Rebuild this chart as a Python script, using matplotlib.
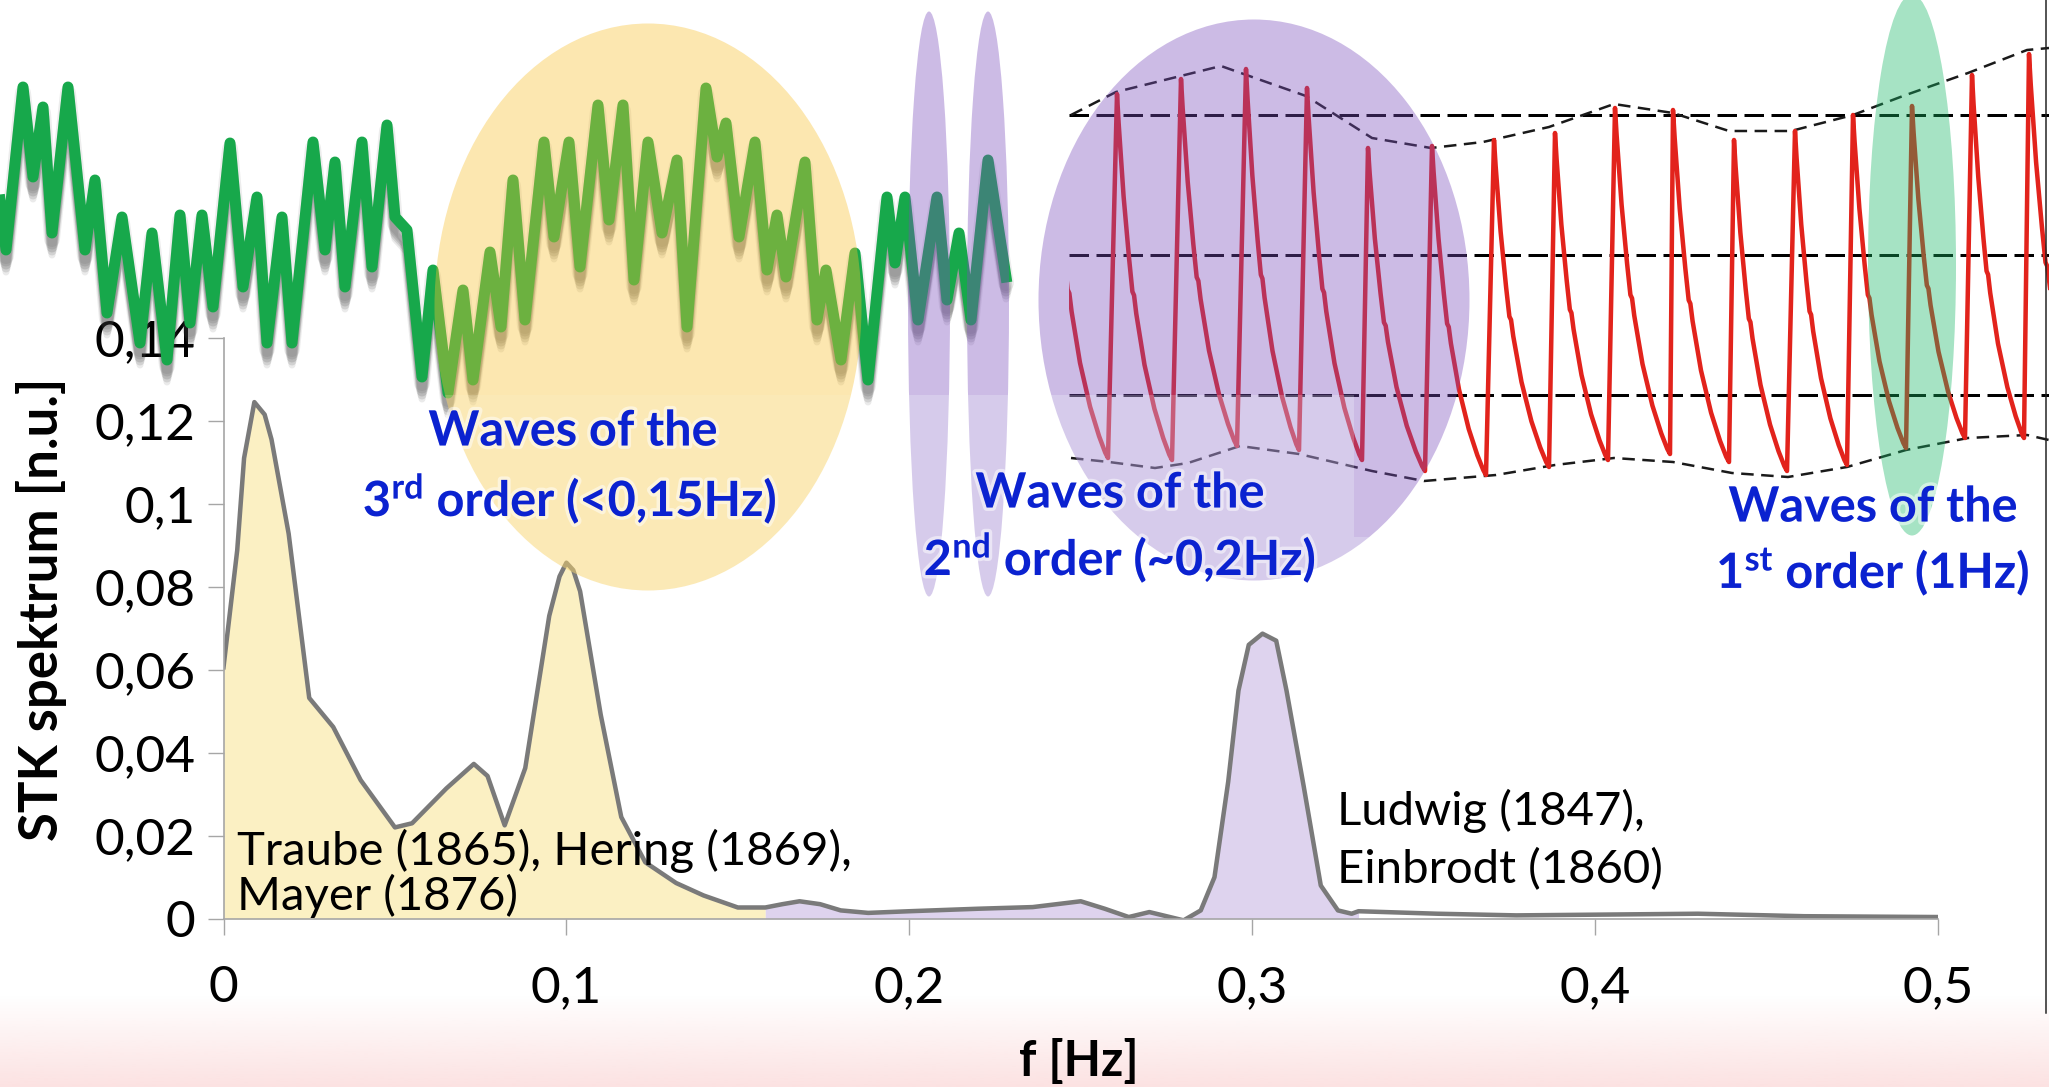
import numpy as np
import matplotlib.pyplot as plt
from matplotlib.patches import Ellipse, Polygon
import matplotlib.patheffects as pe

plt.rcParams['font.family'] = ['Lato', 'DejaVu Sans']
plt.rcParams['mathtext.fontset'] = 'custom'
plt.rcParams['mathtext.rm'] = 'Lato:bold'
plt.rcParams['mathtext.it'] = 'Lato:bold'
plt.rcParams['mathtext.bf'] = 'Lato:bold'

W, H = 2049, 1087
PT = 0.72  # points per pixel at dpi=100

# STK power spectrum
freq = [0.000, 0.004, 0.006, 0.009, 0.012, 0.014, 0.019, 0.025, 0.032, 0.040, 0.050, 0.055,
        0.065, 0.073, 0.077, 0.082, 0.088, 0.095, 0.098, 0.100, 0.102, 0.104, 0.110, 0.116,
        0.123, 0.132, 0.140, 0.150, 0.158, 0.163, 0.168, 0.174, 0.180, 0.188,
        0.200, 0.220, 0.236, 0.244, 0.250, 0.257, 0.264, 0.270, 0.274, 0.280,
        0.285, 0.289, 0.293, 0.296, 0.299, 0.303, 0.307, 0.310, 0.315, 0.320,
        0.325, 0.329, 0.331, 0.354, 0.377, 0.404, 0.430, 0.461, 0.500]
power = [0.0606, 0.0888, 0.1110, 0.1245, 0.1215, 0.1155, 0.0928, 0.0532, 0.0462, 0.0334, 0.0220, 0.0230,
         0.0314, 0.0373, 0.0344, 0.0225, 0.0363, 0.0730, 0.0825, 0.0858, 0.0840, 0.0789, 0.0492, 0.0245,
         0.0136, 0.0086, 0.0056, 0.0027, 0.0027, 0.0035, 0.0042, 0.0035, 0.0020, 0.0014,
         0.0018, 0.0024, 0.0028, 0.0036, 0.0042, 0.0024, 0.0004, 0.0016, 0.0008, -0.0004,
         0.0020, 0.0100, 0.0330, 0.0550, 0.0660, 0.0687, 0.0670, 0.0550, 0.0320, 0.0080,
         0.0020, 0.0012, 0.0018, 0.0012, 0.0008, 0.0010, 0.0012, 0.0006, 0.0004]
band3_end = 0.158   # 3rd order waves (yellow)
band2_end = 0.331   # 2nd order waves (violet)

x_ticks = [0, 0.1, 0.2, 0.3, 0.4, 0.5]
x_tick_labels = ['0', '0,1', '0,2', '0,3', '0,4', '0,5']
y_ticks = [0, 0.02, 0.04, 0.06, 0.08, 0.1, 0.12, 0.14]
y_tick_labels = ['0', '0,02', '0,04', '0,06', '0,08', '0,1', '0,12', '0,14']

# Blood pressure trace (figure pixel coordinates)
bp_x = [0, 6, 23, 33, 43, 52, 68, 85, 95, 107, 122, 140, 152, 167, 180, 190, 202, 213, 230, 243,
        257, 267, 282, 292, 313, 325, 335, 345, 362, 372, 387, 395, 407, 422, 433, 448, 463, 473, 490, 501,
        513, 525, 544, 554, 569, 580, 598, 609, 623, 634, 648, 662, 677, 687, 706, 717, 726, 739, 755, 767,
        777, 786, 805, 817, 826, 841, 855, 868, 887, 895, 905, 918, 937, 947, 959, 971, 988, 1006]
bp_y = [200, 250, 87, 177, 107, 233, 87, 250, 180, 313, 217, 343, 233, 360, 215, 323, 215, 307, 143, 287,
        197, 343, 217, 343, 142, 250, 162, 287, 142, 267, 125, 217, 230, 377, 270, 393, 290, 380, 252, 327,
        180, 320, 142, 237, 142, 267, 105, 220, 105, 280, 142, 233, 160, 327, 88, 157, 123, 237, 142, 270,
        215, 277, 162, 320, 270, 360, 253, 380, 197, 263, 197, 320, 197, 300, 233, 320, 160, 277]

# Arterial pulse wave: systolic peaks and diastolic troughs of each beat
pulse_peak_x = [1052, 1117, 1181, 1246, 1307, 1368, 1432, 1494, 1555, 1615,
                1673, 1734, 1795, 1853, 1912, 1972, 2029]
pulse_peak_y = [92, 94, 79, 69, 88, 148, 146, 140, 133, 108,
                110, 140, 131, 115, 106, 75, 54]
pulse_trough_x = [1108, 1172, 1237, 1299, 1362, 1425, 1486, 1549, 1608, 1670,
                  1729, 1787, 1847, 1906, 1965, 2024, 2088]
pulse_trough_y = [458, 460, 446, 450, 460, 471, 475, 467, 460, 454,
                  462, 471, 465, 448, 438, 438, 440]

upper_env_x = [1071, 1116, 1221, 1306, 1372, 1431, 1483, 1549, 1614, 1673, 1729, 1791, 1853, 1903, 1968, 2027, 2049]
upper_env_y = [115, 92, 66, 96, 138, 148, 142, 127, 104, 113, 131, 131, 115, 96, 73, 50, 48]
lower_env_x = [1071, 1109, 1155, 1188, 1240, 1299, 1372, 1424, 1496, 1555, 1614, 1673, 1732, 1788, 1847, 1906, 1968, 2027, 2049]
lower_env_y = [458, 462, 468, 463, 446, 454, 471, 481, 475, 465, 458, 462, 473, 477, 467, 450, 438, 435, 440]
ref_levels = [115, 255, 395]

# beat shape between a peak and the following trough (fraction of time, fraction of drop)
drop_t = [0, 0.03, 0.12, 0.22, 0.28, 0.31, 0.35, 0.50, 0.68, 0.84, 0.95, 1.0]
drop_v = [0, 0.08, 0.28, 0.45, 0.54, 0.55, 0.60, 0.74, 0.86, 0.94, 0.985, 1.0]

fig = plt.figure(figsize=(W / 100, H / 100), dpi=100)

# pale pink fade at the bottom of the slide
bg = fig.add_axes([0, 0, 1, 1], zorder=0)
fade = np.zeros((100, 2, 4))
fade[..., 0] = 252 / 255
fade[..., 1] = 226 / 255
fade[..., 2] = 226 / 255
fade[..., 3] = np.linspace(0, 1, 100)[:, None]
bg.imshow(fade, extent=(0, W, H, 995), origin='upper', aspect='auto', interpolation='bilinear')
bg.set_xlim(0, W)
bg.set_ylim(H, 0)
bg.axis('off')

# spectrum chart
ax = fig.add_axes([223.5 / W, 168.3 / H, (1938 - 223.5) / W, 580.9 / H], zorder=1)
ax.patch.set_alpha(0)
f = np.array(freq)
p = np.array(power)
ax.fill_between(f, 0, p, where=f <= band3_end, color='#FBF0C3', lw=0)
ax.fill_between(f, 0, p, where=(f >= band3_end) & (f <= band2_end), color='#DED3EE', lw=0)
ax.plot(f, p, color='#7A7A7A', lw=4.5 * PT, solid_joinstyle='round')
ax.set_xlim(0, 0.5)
ax.set_ylim(0, 0.14)
ax.set_xticks(x_ticks)
ax.set_xticklabels(x_tick_labels)
ax.set_yticks(y_ticks)
ax.set_yticklabels(y_tick_labels)
for s in ['top', 'right']:
    ax.spines[s].set_visible(False)
for s in ['left', 'bottom']:
    ax.spines[s].set_color('#A6A6A6')
    ax.spines[s].set_linewidth(1.2)
ax.tick_params(axis='both', direction='out', length=16 * PT, width=1, color='#A6A6A6', labelsize=37)
ax.tick_params(axis='y', pad=12 * PT)
ax.tick_params(axis='x', pad=30 * PT)

ax.text(0.0038, 0.011, 'Traube (1865), Hering (1869),\nMayer (1876)', fontsize=34,
        ha='left', va='center', linespacing=1.02)
ax.text(0.3247, 0.019, 'Ludwig (1847),\nEinbrodt (1860)', fontsize=34,
        ha='left', va='center', linespacing=1.45)

fig.text(42 / W, 1 - 609 / H, 'STK spektrum [n.u.]', rotation=90, ha='center', va='center',
         fontsize=38, fontweight='bold')
fig.text(1079 / W, 1 - 1061 / H, 'f [Hz]', ha='center', va='center', fontsize=35, fontweight='bold')

# overlay in figure pixels: traces, highlighted bands, captions
ov = fig.add_axes([0, 0, 1, 1], zorder=2)
ov.patch.set_alpha(0)
ov.set_xlim(0, W)
ov.set_ylim(H, 0)
ov.axis('off')

gx = np.array(bp_x, dtype=float)
gy = np.array(bp_y, dtype=float)
for dy, lw, a in [(6, 16, 0.09), (10, 13, 0.13), (14, 11, 0.16), (18, 9, 0.14), (22, 7, 0.10)]:
    ov.plot(gx, gy + dy, color='#3A3A3A', lw=lw * PT, alpha=a,
            solid_joinstyle='round', solid_capstyle='round', zorder=1)
ov.plot(gx, gy, color='#17A84B', lw=11 * PT, solid_joinstyle='round', zorder=2)

# pulse wave assembled beat by beat
px_all, py_all = [], []
for i in range(len(pulse_peak_x)):
    x0, y0 = pulse_peak_x[i], pulse_peak_y[i]
    x1, y1 = pulse_trough_x[i], pulse_trough_y[i]
    for t, v in zip(drop_t, drop_v):
        px_all.append(x0 + t * (x1 - x0))
        py_all.append(y0 + v * (y1 - y0))
clip = Polygon([(1069, 0), (W, 0), (W, 600), (1069, 600)], transform=ov.transData)
for lvl in ref_levels:
    ov.plot([1069, W], [lvl, lvl], color='k', lw=3 * PT, dashes=(6.5, 2.5), zorder=2)
env_u, = ov.plot(upper_env_x, upper_env_y, color='#1A1A1A', lw=2.5 * PT, dashes=(5, 3), zorder=2)
env_l, = ov.plot(lower_env_x, lower_env_y, color='#1A1A1A', lw=2.5 * PT, dashes=(5, 3), zorder=2)
pulse, = ov.plot(px_all, py_all, color='#E2231C', lw=4.5 * PT, solid_joinstyle='round', zorder=3)
for art in (pulse, env_u, env_l):
    art.set_clip_path(clip)

# highlighted bands: (centre x, centre y, width, height, lower colour, upper colour)
bands = [
    (648, 307, 427, 567, '#F8D46E', '#F8C030'),
    (929, 304, 42, 585, '#AE98D8', '#7A4DBC'),
    (988, 304, 42, 585, '#AE98D8', '#7A4DBC'),
    (1254, 300, 431, 561, '#AE98D8', '#7A4DBC'),
    (1912, 265, 88, 541, '#4CC88A', '#16B664'),
]
# the part of each band lying over the trace images is tinted a little stronger
upper_zone = [(0, 0), (W, 0), (W, 537), (1354, 537), (1354, 395), (0, 395)]
lower_zone = [(0, 395), (1354, 395), (1354, 537), (W, 537), (W, H), (0, H)]
for cx, cy, w, h, low, up in bands:
    for zone, col, a in [(lower_zone, low, 0.5), (upper_zone, up, 0.38)]:
        e = Ellipse((cx, cy), w, h, facecolor=col, alpha=a, lw=0, zorder=4)
        ov.add_patch(e)
        e.set_clip_path(Polygon(zone, transform=ov.transData))

blue = '#0B22D0'
glow = [pe.withStroke(linewidth=5, foreground='white', alpha=0.5)]
captions = [
    (573, 431, 'Waves of the'), (570, 498, '3$^{rd}$ order (<0,15Hz)'),
    (1120, 493, 'Waves of the'), (1120, 557, '2$^{nd}$ order (~0,2Hz)'),
    (1873, 507, 'Waves of the'), (1873, 571, '1$^{st}$ order (1Hz)'),
]
for cx, cy, s in captions:
    ov.text(cx, cy, s, ha='center', va='center', fontsize=35,
            fontweight='bold', color=blue, path_effects=glow, zorder=6)

ov.plot([2046, 2046], [0, 1013], color='#202020', lw=1.5 * PT, zorder=6)

fig.savefig('out.png', dpi=100)
